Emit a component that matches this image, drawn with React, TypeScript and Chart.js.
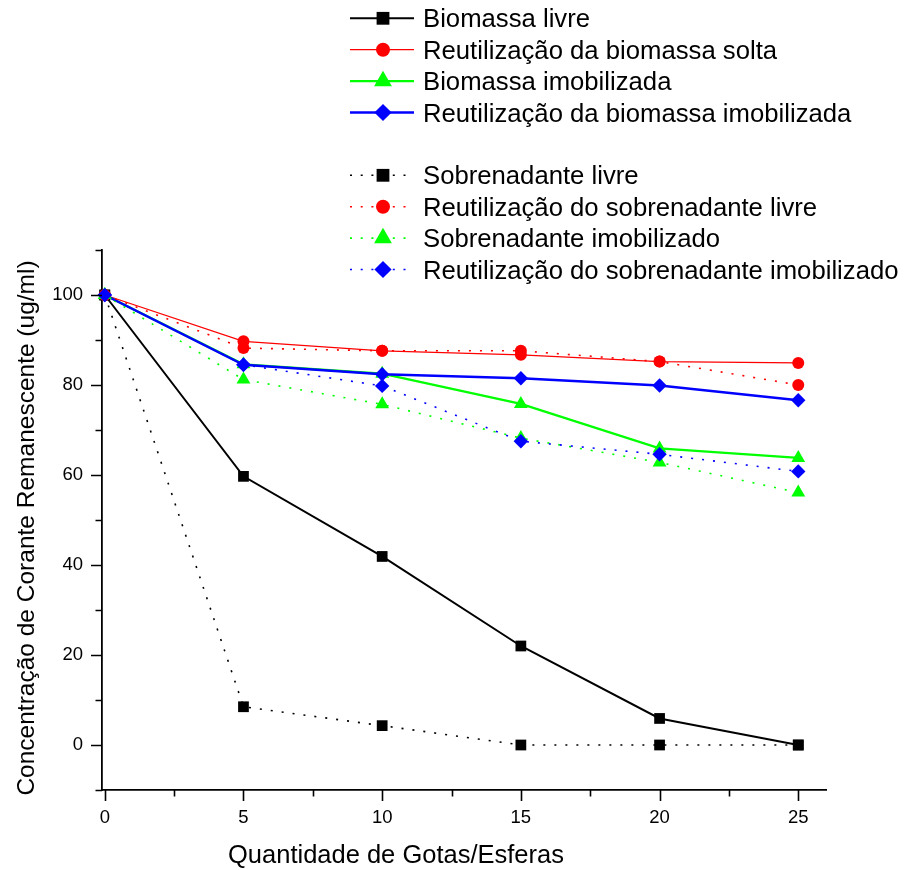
import React, { useEffect, useRef } from 'react';
import { Chart, registerables } from 'chart.js';

Chart.register(...registerables);

// ---------- data ----------
const xValues = [0, 5, 10, 15, 20, 25];
const xTickValues = [0, 5, 10, 15, 20, 25];
const xMinorTickValues = [2.5, 7.5, 12.5, 17.5, 22.5];
const yTickValues = [0, 20, 40, 60, 80, 100];
const yMinorTickValues = [-10, 10, 30, 50, 70, 90, 110];

const seriesNames = [
  'Biomassa livre',
  'Reutilização da biomassa solta',
  'Biomassa imobilizada',
  'Reutilização da biomassa imobilizada',
  'Sobrenadante livre',
  'Reutilização do sobrenadante livre',
  'Sobrenadante imobilizado',
  'Reutilização do sobrenadante imobilizado',
];

const biomassaLivre = [100, 59.7, 41.9, 22.0, 5.9, 0];
const reutBiomassaSolta = [100, 89.7, 87.6, 86.7, 85.2, 84.9];
const biomassaImobilizada = [100, 84.6, 82.5, 75.8, 65.9, 63.8];
const reutBiomassaImobilizada = [100, 84.5, 82.4, 81.5, 79.9, 76.6];
const sobrenadanteLivre = [100, 8.5, 4.3, 0, 0, 0];
const reutSobrenadanteLivre = [100, 88.2, 87.6, 87.6, 85.2, 80.0];
const sobrenadanteImobilizado = [100, 81.2, 75.7, 68.2, 62.8, 56.1];
const reutSobrenadanteImobilizado = [100, 84.5, 79.8, 67.5, 64.6, 60.8];

const seriesValues = [
  biomassaLivre,
  reutBiomassaSolta,
  biomassaImobilizada,
  reutBiomassaImobilizada,
  sobrenadanteLivre,
  reutSobrenadanteLivre,
  sobrenadanteImobilizado,
  reutSobrenadanteImobilizado,
];

const xTitle = 'Quantidade de Gotas/Esferas';
const yTitle = 'Concentração de Corante Remanescente (ug/ml)';

// ---------- styles ----------
const FONT = '"Liberation Sans", Arial, Helvetica, sans-serif';
const seriesStyles = [
  { color: '#000000', marker: 'rect', dotted: false, width: 2 },
  { color: '#ff0000', marker: 'circle', dotted: false, width: 1.3 },
  { color: '#00ff00', marker: 'triangle', dotted: false, width: 2.3 },
  { color: '#0000ff', marker: 'rectRot', dotted: false, width: 2.5 },
  { color: '#000000', marker: 'rect', dotted: true, width: 1.6 },
  { color: '#ff0000', marker: 'circle', dotted: true, width: 1.6 },
  { color: '#00ff00', marker: 'triangle', dotted: true, width: 1.6 },
  { color: '#0000ff', marker: 'rectRot', dotted: true, width: 1.6 },
];
const plotMarkerRadius: Record<string, number> = { rect: 7.6, circle: 6, triangle: 8, rectRot: 7.2 };
const legendMarkerSize: Record<string, number> = { rect: 6.4, circle: 7, triangle: 10.3, rectRot: 8.6 };

function drawMarker(ctx: CanvasRenderingContext2D, marker: string, x: number, y: number, s: number) {
  ctx.beginPath();
  if (marker === 'rect') {
    ctx.rect(x - s, y - s, 2 * s, 2 * s);
  } else if (marker === 'circle') {
    ctx.arc(x, y, s, 0, Math.PI * 2);
  } else if (marker === 'triangle') {
    ctx.moveTo(x, y - s);
    ctx.lineTo(x + s * 0.866, y + s * 0.5);
    ctx.lineTo(x - s * 0.866, y + s * 0.5);
    ctx.closePath();
  } else {
    ctx.moveTo(x, y - s);
    ctx.lineTo(x + s, y);
    ctx.lineTo(x, y + s);
    ctx.lineTo(x - s, y);
    ctx.closePath();
  }
  ctx.fill();
}

const decorPlugin = {
  id: 'decor',
  afterDraw(chart: any) {
    const ctx: CanvasRenderingContext2D = chart.ctx;
    const area = chart.chartArea;
    const xs = chart.scales.x;
    const ys = chart.scales.y;
    ctx.save();
    // tick marks
    ctx.strokeStyle = '#000';
    ctx.lineWidth = 1.6;
    ctx.beginPath();
    xTickValues.forEach((v) => {
      const px = Math.round(xs.getPixelForValue(v)) + 0.5;
      ctx.moveTo(px, area.bottom);
      ctx.lineTo(px, area.bottom + 11);
    });
    xMinorTickValues.forEach((v) => {
      const px = Math.round(xs.getPixelForValue(v)) + 0.5;
      ctx.moveTo(px, area.bottom);
      ctx.lineTo(px, area.bottom + 6.5);
    });
    yTickValues.forEach((v) => {
      const py = Math.round(ys.getPixelForValue(v)) + 0.5;
      ctx.moveTo(area.left, py);
      ctx.lineTo(area.left - 11, py);
    });
    yMinorTickValues.forEach((v) => {
      const py = Math.round(ys.getPixelForValue(v)) + 0.5;
      ctx.moveTo(area.left, py);
      ctx.lineTo(area.left - 6.5, py);
    });
    ctx.stroke();

    // axis titles
    ctx.fillStyle = '#000';
    ctx.font = `25.5px ${FONT}`;
    ctx.textAlign = 'left';
    ctx.textBaseline = 'alphabetic';
    ctx.fillText(xTitle, area.left + 126, 863);

    ctx.save();
    ctx.translate(34, 528);
    ctx.rotate(-Math.PI / 2);
    ctx.textAlign = 'center';
    ctx.font = `24.5px ${FONT}`;
    ctx.fillText(yTitle, 0, 0);
    ctx.restore();

    // legend
    const rowSlots = [0, 1, 2, 3, 5, 6, 7, 8];
    const lx0 = 350;
    const lx1 = 414;
    const lxm = 383;
    const ltx = 423;
    const top = 18.3;
    const rowH = 31.4;
    ctx.font = `25.7px ${FONT}`;
    seriesNames.forEach((name, i) => {
      const st = seriesStyles[i];
      const y = top + rowSlots[i] * rowH;
      ctx.strokeStyle = st.color;
      ctx.fillStyle = st.color;
      if (st.dotted) {
        ctx.lineWidth = 1.6;
        ctx.setLineDash([2, 8.7]);
      } else {
        ctx.lineWidth = st.width;
        ctx.setLineDash([]);
      }
      ctx.beginPath();
      ctx.moveTo(lx0, y);
      ctx.lineTo(lx1, y);
      ctx.stroke();
      ctx.setLineDash([]);
      drawMarker(ctx, st.marker, lxm, y, legendMarkerSize[st.marker]);
      ctx.fillStyle = '#000';
      ctx.textAlign = 'left';
      ctx.textBaseline = 'alphabetic';
      ctx.fillText(name, ltx, y + 9);
    });
    ctx.restore();
  },
};

export default function App() {
  const canvasRef = useRef<HTMLCanvasElement | null>(null);

  useEffect(() => {
    const canvas = canvasRef.current;
    if (!canvas) return;
    const datasets = seriesValues.map((vals, i) => {
      const st = seriesStyles[i];
      return {
        label: seriesNames[i],
        data: xValues.map((x, j) => ({ x, y: vals[j] })),
        borderColor: st.color,
        backgroundColor: st.color,
        borderWidth: st.width,
        borderDash: st.dotted ? [2, 9] : [],
        pointStyle: st.marker,
        pointRadius: plotMarkerRadius[st.marker],
        pointHoverRadius: plotMarkerRadius[st.marker],
        pointBackgroundColor: st.color,
        pointBorderColor: st.color,
        pointBorderWidth: 0,
        tension: 0,
        fill: false,
        clip: false as any,
        order: seriesValues.length - 1 - i,
      };
    });

    const chart = new Chart(canvas, {
      type: 'line',
      data: { datasets },
      options: {
        animation: false,
        responsive: false,
        maintainAspectRatio: false,
        devicePixelRatio: 1,
        layout: { padding: { top: 250, right: 78, left: 0, bottom: 0 } },
        plugins: {
          legend: { display: false },
          tooltip: { enabled: false },
          title: { display: false },
        },
        scales: {
          x: {
            type: 'linear',
            min: -0.1,
            max: 26,
            grid: { display: false, drawTicks: false },
            border: { display: true, color: '#000', width: 1.8 },
            ticks: {
              color: '#000',
              font: { family: FONT, size: 18.5 },
              padding: 17,
              maxRotation: 0,
              autoSkip: false,
            },
            afterBuildTicks: (scale: any) => {
              scale.ticks = xTickValues.map((v) => ({ value: v }));
            },
            afterFit: (scale: any) => {
              scale.height = 80;
            },
          },
          y: {
            type: 'linear',
            min: -10,
            max: 110,
            grid: { display: false, drawTicks: false },
            border: { display: true, color: '#000', width: 1.8 },
            ticks: {
              color: '#000',
              font: { family: FONT, size: 18.5 },
              padding: 19,
              autoSkip: false,
            },
            afterBuildTicks: (scale: any) => {
              scale.ticks = yTickValues.map((v) => ({ value: v }));
            },
            afterFit: (scale: any) => {
              scale.width = 102;
            },
          },
        },
      },
      plugins: [decorPlugin],
    });

    return () => {
      chart.destroy();
    };
  }, []);

  return (
    <div style={{ position: 'absolute', left: 0, top: 0, width: 904, height: 870, background: '#fff' }}>
      <canvas ref={canvasRef} width={904} height={870} style={{ display: 'block', width: 904, height: 870 }} />
    </div>
  );
}
